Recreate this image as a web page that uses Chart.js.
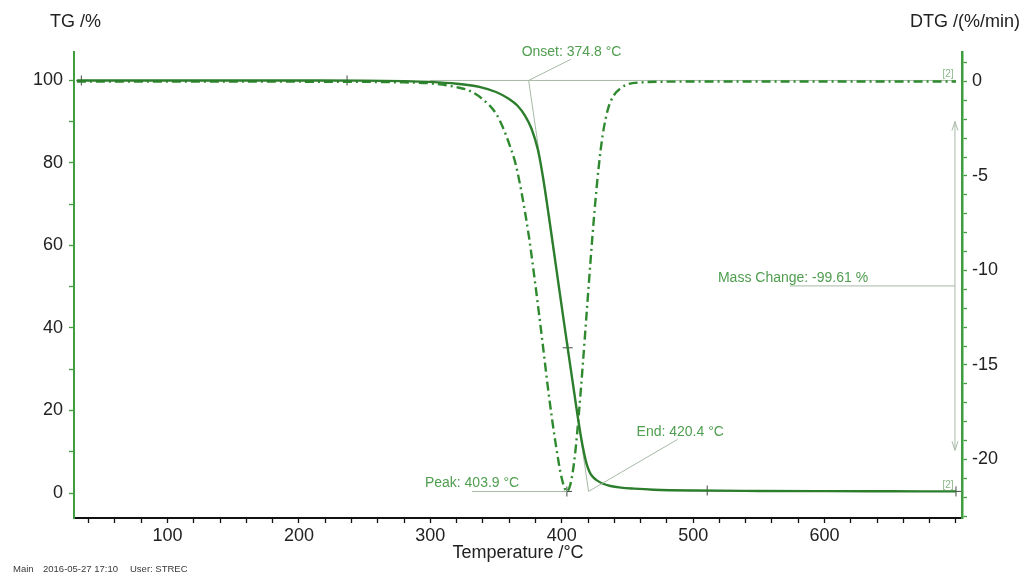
<!DOCTYPE html>
<html>
<head>
<meta charset="utf-8">
<title>TG / DTG</title>
<script src="https://cdn.jsdelivr.net/npm/chart.js@4.4.1/dist/chart.umd.min.js"></script>
<style>
  html, body { margin: 0; padding: 0; background: #ffffff; }
  canvas { display: block; }
</style>
</head>
<body>
<canvas id="thermo" width="1027" height="576"></canvas>
<script>
// Mass curve (TG, %) against furnace temperature (°C)
const tgTemp = [31, 100, 200, 250, 280, 300, 320, 338, 350, 360, 366, 372, 377, 382, 386, 390, 394, 398, 402, 406, 410, 412, 414, 416, 418, 420, 422, 424, 427, 431, 437, 445, 455, 470, 500, 550, 600, 650, 700];
const tgValues = [100, 100, 100, 99.97, 99.85, 99.65, 99.2, 98.4, 97.2, 95.5, 94.0, 91.5, 88.3, 83.0, 76.0, 67.5, 58.6, 49.6, 40.7, 31.9, 23.2, 18.8, 14.8, 11.2, 8.2, 6.0, 4.6, 3.8, 3.0, 2.3, 1.7, 1.3, 1.05, 0.8, 0.6, 0.5, 0.45, 0.42, 0.39];

// Rate of mass change (DTG, %/min)
const dtgTemp = [31, 100, 200, 250, 280, 300, 320, 330, 340, 350, 355, 360, 365, 370, 375, 380, 385, 390, 395, 400, 403.9, 407, 410, 413, 416, 419, 422, 425, 428, 431, 435, 440, 445, 450, 460, 480, 550, 700];
const dtgValues = [0, 0, -0.01, -0.02, -0.05, -0.1, -0.3, -0.5, -0.95, -1.7, -2.4, -3.3, -4.4, -6.1, -8.2, -10.8, -13.6, -16.5, -19.0, -21.0, -21.7, -21.2, -19.8, -17.6, -15.0, -12.2, -9.4, -6.8, -4.6, -2.9, -1.5, -0.7, -0.35, -0.15, -0.05, -0.01, 0, 0];

// Segment markers on the TG curve
const markerTemp = [34.4, 236.6, 510.7, 700];
const markerTG = [100, 100, 0.6, 0.39];

// Evaluation results
const onsetTemp = 374.8;
const peakTemp = 403.9;
const peakDtg = -21.7;
const endTemp = 420.4;
const inflectionTemp = 404.5;
const inflectionTG = 35.2;
const massStart = 100;
const massEnd = 0.39;
const massChange = -99.61;
const evalTemp = 700;

// Axis ticks
const tempTicks = [40, 60, 80, 100, 120, 140, 160, 180, 200, 220, 240, 260, 280, 300, 320, 340, 360, 380, 400, 420, 440, 460, 480, 500, 520, 540, 560, 580, 600, 620, 640, 660, 680, 700];
const tempLabels = [100, 200, 300, 400, 500, 600];
const tgTicks = [0, 10, 20, 30, 40, 50, 60, 70, 80, 90, 100];
const tgLabels = [0, 20, 40, 60, 80, 100];
const dtgTicks = [1, 0, -1, -2, -3, -4, -5, -6, -7, -8, -9, -10, -11, -12, -13, -14, -15, -16, -17, -18, -19, -20, -21, -22, -23];
const dtgLabels = [0, -5, -10, -15, -20];

const FONT = '"Liberation Sans", Arial, sans-serif';
const AXIS_GREEN = '#3f9c3f';
const CURVE_GREEN = '#2c7d2c';
const NOTE_GREEN = '#4f9d4f';
const GUIDE = '#a7b9a7';
const TEXT = '#222222';

const toPoints = (xs, ys) => xs.map((x, i) => ({ x: x, y: ys[i] }));
const labelIf = list => v => (list.indexOf(v) >= 0 ? String(v) : '');

const notes = {
  id: 'thermoNotes',
  beforeDatasetsDraw(chart) {
    const { ctx, scales: { x, yTG } } = chart;
    const line = (x1, y1, x2, y2) => {
      ctx.beginPath(); ctx.moveTo(x1, y1); ctx.lineTo(x2, y2); ctx.stroke();
    };
    ctx.save();
    ctx.strokeStyle = GUIDE;
    ctx.lineWidth = 1;
    // initial mass baseline
    line(x.getPixelForValue(300), yTG.getPixelForValue(massStart), x.getPixelForValue(evalTemp), yTG.getPixelForValue(massStart));
    // inflection tangent: onset -> end
    line(x.getPixelForValue(onsetTemp), yTG.getPixelForValue(massStart), x.getPixelForValue(endTemp), yTG.getPixelForValue(massEnd));
    ctx.restore();
  },
  afterDatasetsDraw(chart) {
    const { ctx, scales: { x, yTG, yDTG } } = chart;
    const line = (x1, y1, x2, y2) => {
      ctx.beginPath(); ctx.moveTo(x1, y1); ctx.lineTo(x2, y2); ctx.stroke();
    };
    ctx.save();
    ctx.strokeStyle = GUIDE;
    ctx.lineWidth = 1;
    ctx.font = '14px ' + FONT;
    ctx.fillStyle = NOTE_GREEN;
    ctx.textBaseline = 'middle';
    ctx.textAlign = 'left';

    // Onset
    const ox = x.getPixelForValue(onsetTemp), oy = yTG.getPixelForValue(massStart);
    line(ox, oy, ox + 42, oy - 21);
    ctx.fillText('Onset: ' + onsetTemp.toFixed(1) + ' °C', ox - 7, oy - 28);

    // Peak
    const px = x.getPixelForValue(peakTemp), py = yDTG.getPixelForValue(peakDtg);
    line(px - 95, py, px, py);
    ctx.fillText('Peak: ' + peakTemp.toFixed(1) + ' °C', px - 142, py - 8);

    // End
    const ex = x.getPixelForValue(endTemp), ey = yTG.getPixelForValue(massEnd);
    line(ex, ey, ex + 89, ey - 52);
    ctx.fillText('End: ' + endTemp.toFixed(1) + ' °C', ex + 48, ey - 59);

    // Mass change double arrow
    const mx = x.getPixelForValue(evalTemp) - 1;
    const span = massStart - massEnd;
    const topY = yTG.getPixelForValue(massStart - 0.1 * span);
    const botY = yTG.getPixelForValue(massEnd + 0.1 * span);
    const midY = yTG.getPixelForValue((massStart + massEnd) / 2);
    line(mx, topY, mx, botY);
    line(mx, topY, mx - 3, topY + 9);
    line(mx, topY, mx + 3, topY + 9);
    line(mx, botY, mx - 3, botY - 9);
    line(mx, botY, mx + 3, botY - 9);
    line(mx - 165, midY, mx, midY);
    ctx.fillText('Mass Change: ' + massChange.toFixed(2) + ' %', mx - 237, midY - 8);

    // segment tags
    ctx.font = '10px ' + FONT;
    ctx.fillStyle = '#86b486';
    ctx.textAlign = 'center';
    ctx.fillText('[2]', mx - 7, yTG.getPixelForValue(massStart) - 6);
    ctx.fillText('[2]', mx - 7, yTG.getPixelForValue(massEnd) - 6);
    ctx.restore();
  },
  afterDraw(chart) {
    const { ctx } = chart;
    ctx.save();
    ctx.fillStyle = TEXT;
    ctx.textBaseline = 'middle';
    ctx.font = '18px ' + FONT;
    ctx.textAlign = 'left';
    ctx.fillText('TG /%', 50, 22);
    ctx.textAlign = 'right';
    ctx.fillText('DTG /(%/min)', 1020, 22);
    ctx.font = '9.5px ' + FONT;
    ctx.fillStyle = '#3a3a3a';
    ctx.textAlign = 'left';
    ctx.fillText('Main', 13, 569);
    ctx.fillText('2016-05-27 17:10', 43, 569);
    ctx.fillText('User: STREC', 130, 569);
    ctx.restore();
  }
};

new Chart(document.getElementById('thermo'), {
  type: 'line',
  data: {
    datasets: [
      {
        label: 'TG',
        data: toPoints(tgTemp, tgValues),
        yAxisID: 'yTG',
        borderColor: CURVE_GREEN,
        borderWidth: 2.4,
        pointRadius: 0,
        cubicInterpolationMode: 'monotone'
      },
      {
        label: 'DTG',
        data: toPoints(dtgTemp, dtgValues),
        yAxisID: 'yDTG',
        borderColor: '#2f8a2f',
        borderWidth: 2.4,
        borderDash: [9, 4, 2, 4],
        pointRadius: 0,
        cubicInterpolationMode: 'monotone'
      },
      {
        label: 'TG markers',
        data: toPoints(markerTemp, markerTG).concat([{ x: inflectionTemp, y: inflectionTG }]),
        yAxisID: 'yTG',
        showLine: false,
        pointStyle: 'cross',
        pointRadius: 5,
        pointBorderWidth: 1,
        pointBorderColor: '#404a40'
      },
      {
        label: 'DTG peak',
        data: [{ x: peakTemp, y: peakDtg }],
        yAxisID: 'yDTG',
        showLine: false,
        pointStyle: 'cross',
        pointRadius: 5,
        pointBorderWidth: 1,
        pointBorderColor: '#404a40'
      }
    ]
  },
  options: {
    responsive: false,
    animation: false,
    events: [],
    layout: { padding: { top: 52, left: 0, right: 0, bottom: 0 } },
    plugins: { legend: { display: false }, tooltip: { enabled: false } },
    scales: {
      x: {
        type: 'linear',
        position: 'bottom',
        min: 28.8,
        max: 704.6,
        afterBuildTicks: s => { s.ticks = tempTicks.map(v => ({ value: v })); },
        afterFit: s => { s.height = 58; },
        grid: { drawOnChartArea: false, drawTicks: true, tickLength: 5, color: '#111111', tickWidth: 1.3 },
        border: { display: true, color: '#111111', width: 2 },
        ticks: {
          autoSkip: false, maxRotation: 0, padding: 2, color: TEXT,
          font: { size: 18, family: FONT },
          callback: labelIf(tempLabels)
        },
        title: {
          display: true, text: 'Temperature /°C', color: TEXT,
          font: { size: 18, family: FONT }, padding: { top: 0, bottom: 12 }
        }
      },
      yTG: {
        type: 'linear',
        position: 'left',
        min: -6.06,
        max: 106.9,
        afterBuildTicks: s => { s.ticks = tgTicks.map(v => ({ value: v })); },
        afterFit: s => { s.width = 74; },
        grid: { drawOnChartArea: false, drawTicks: true, tickLength: 5, color: AXIS_GREEN, tickWidth: 1.3 },
        border: { display: true, color: AXIS_GREEN, width: 2 },
        ticks: {
          autoSkip: false, padding: 6, color: TEXT,
          font: { size: 18, family: FONT },
          callback: labelIf(tgLabels)
        }
      },
      yDTG: {
        type: 'linear',
        position: 'right',
        min: -23.1,
        max: 1.56,
        afterBuildTicks: s => { s.ticks = dtgTicks.map(v => ({ value: v })); },
        afterFit: s => { s.width = 65; },
        grid: { drawOnChartArea: false, drawTicks: true, tickLength: 5, color: AXIS_GREEN, tickWidth: 1.3 },
        border: { display: true, color: AXIS_GREEN, width: 2.5 },
        ticks: {
          autoSkip: false, padding: 5, color: TEXT,
          font: { size: 18, family: FONT },
          callback: labelIf(dtgLabels)
        }
      }
    }
  },
  plugins: [notes]
});
</script>
</body>
</html>
